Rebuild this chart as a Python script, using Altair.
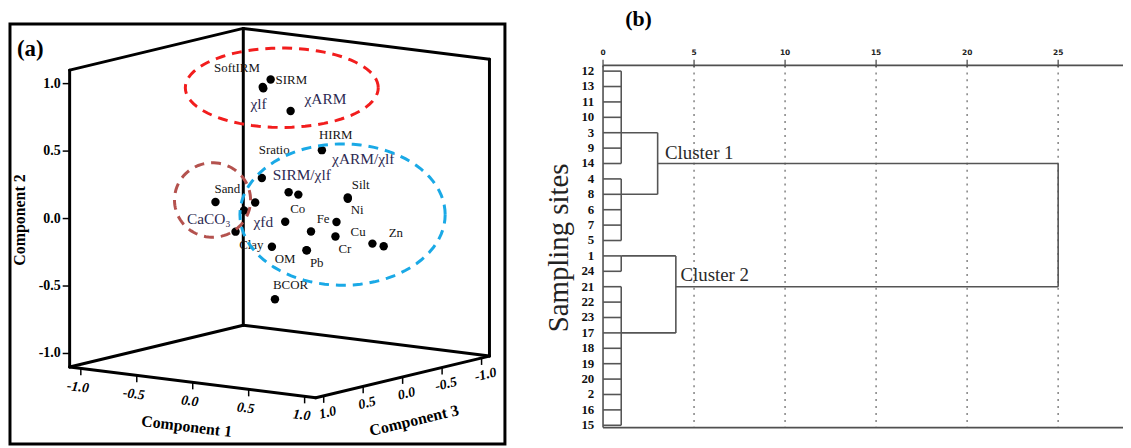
import altair as alt
import pandas as pd

# ---------------- panel (a): component loadings (3-D) ----------------
var_names = ["SoftIRM", "χlf", "SIRM", "χARM", "HIRM", "Sratio", "SIRM/χlf", "χARM/χlf",
             "Silt", "Ni", "Sand", "", "", "χfd", "Fe", "CaCO₃", "Co", "Cr", "Cu", "Zn",
             "Clay", "OM", "Pb", "BCOR"]
comp1 = [-0.08, -0.11, -0.15, 0.24, 0.59, -0.37, -0.06, 0.45, 0.68, 0.61, -0.22, -0.50,
         -0.67, -0.02, 0.65, 0.03, 0.14, 0.57, 0.83, 0.86, -0.28, 0.24, 0.28, 0.10]
comp2 = [0.94, 0.92, 0.96, 0.81, 0.57, 0.18, 0.12, 0.24, 0.20, 0.17, 0.13, -0.03,
         -0.12, -0.08, 0.03, -0.05, -0.15, -0.10, -0.14, -0.17, -0.32, -0.25, -0.24, -0.60]
comp3 = [0.10, 0.05, -0.10, 0.20, 0.30, -0.30, -0.20, 0.40, 0.10, 0.00, 0.50, -0.40,
         -0.50, -0.10, 0.20, 0.60, -0.20, 0.10, 0.00, -0.10, -0.30, 0.00, 0.05, 0.20]
emphasised = ["χlf", "χARM", "SIRM/χlf", "χARM/χlf", "χfd", "CaCO₃"]

# label placement (pixels, relative to the point)
label_dx = [-49, -13, 5, 14, -3, -3, -16, 34, 4, 3, -1, 0, 0, -32, -20, -49, -21, 3, -22, 5,
            -33, -32, 3, -2]
label_dy = [-19, 16, 0, -12, -15, -28, -17, -36, -13, 11.5, -13, 0, 0, 0, -3, -13, -23, 13,
            -12, -13, -2, 9, 13, -14]

axis_ticks = [-1.0, -0.5, 0.0, 0.5, 1.0]
tick_text = ["-1.0", "-0.5", "0.0", "0.5", "1.0"]
BOX = 1.1

# ellipses grouping the variables (projected plane units): centre u, centre v, radius u, radius v
ellipse_cu = [0.020, -0.599, 0.563]
ellipse_cv = [0.929, 0.097, -0.011]
ellipse_ru = [0.862, 0.340, 0.917]
ellipse_rv = [0.294, 0.276, 0.524]
ellipse_color = ["#f21d1d", "#b4524e", "#1aa9e6"]

# ---------------- panel (b): dendrogram ----------------
sites = ["12", "13", "11", "10", "3", "9", "14", "4", "8", "6", "7", "5",
         "1", "24", "21", "22", "23", "17", "18", "19", "20", "2", "16", "15"]
link_h_from = [1, 1, 3, 1, 1, 4]
link_h_to = [3, 3, 25, 4, 4, 25]
link_h_row = [4, 8, 6, 12, 17, 14]
link_v_dist = [1, 1, 1, 1, 3, 4, 25]
link_v_top = [0, 7, 12, 14, 4, 12, 6]
link_v_bottom = [6, 11, 13, 23, 8, 17, 14]
leaf_join = 1
dist_ticks = [0, 5, 10, 15, 20, 25]
cluster_names = ["Cluster 1", "Cluster 2"]
cluster_dist = [3.4, 4.25]
cluster_row = [5.3, 13.27]

# ---------------- projection & scales ----------------
K13, K21, K23 = 0.7054, 0.1038, 0.1405
PXU, PXV = 112.7, 135.9
SERIF = "Liberation Serif"


def U(p):
    return f"datum.{p}1 - {K13}*datum.{p}3"


def V(p):
    return f"datum.{p}2 - {K21}*datum.{p}1 - {K23}*datum.{p}3"


SU = alt.Scale(domain=[-1, 1], range=[160.8, 386.2], nice=False, zero=False)
SV = alt.Scale(domain=[-1, 1], range=[340.9, 69.1], nice=False, zero=False)
SD = alt.Scale(domain=[0, 25], range=[599.3, 1057.7], nice=False, zero=False)
SR = alt.Scale(domain=[0, 23], range=[62, 418.7], nice=False, zero=False)


def xu(f):
    return alt.X(f"{f}:Q", scale=SU, axis=None)


def yv(f):
    return alt.Y(f"{f}:Q", scale=SV, axis=None)


layers = []

# outer frame of panel (a)
one = pd.DataFrame({"k": [0]})
layers.append(alt.Chart(one).mark_rect(fillOpacity=0, stroke="black", strokeWidth=3).encode(
    x=alt.value(2), x2=alt.value(500.5), y=alt.value(14.5), y2=alt.value(437.5)))

# cube edges
L = BOX
edges = [((-L, -L, -L), (-L, L, -L)), ((-L, -L, L), (-L, L, L)), ((L, -L, -L), (L, L, -L)),
         ((-L, L, L), (-L, L, -L)), ((-L, L, -L), (L, L, -L)), ((-L, -L, L), (-L, -L, -L)),
         ((-L, -L, -L), (L, -L, -L)), ((-L, -L, L), (L, -L, L)), ((L, -L, L), (L, -L, -L))]
df_edges = pd.DataFrame({"a1": [e[0][0] for e in edges], "a2": [e[0][1] for e in edges],
                         "a3": [e[0][2] for e in edges], "b1": [e[1][0] for e in edges],
                         "b2": [e[1][1] for e in edges], "b3": [e[1][2] for e in edges]})
layers.append(alt.Chart(df_edges).transform_calculate(
    ua=U("a"), va=V("a"), ub=U("b"), vb=V("b")
).mark_rule(color="black", strokeWidth=3, strokeCap="round").encode(
    x=xu("ua"), x2="ub:Q", y=yv("va"), y2="vb:Q"))

df_ticks = pd.DataFrame({"t": axis_ticks, "lab": tick_text})

# Component 2 ticks (left vertical edge)
c2t = alt.Chart(df_ticks).transform_calculate(
    c1=f"{-L}", c3=f"{L}", c2="datum.t").transform_calculate(
    u=U("c"), v=V("c")).transform_calculate(
    u2=f"datum.u - 7/{PXU}", ul=f"datum.u - 9/{PXU}")
layers.append(c2t.mark_rule(color="black", strokeWidth=1.5).encode(
    x=xu("u"), x2="u2:Q", y=yv("v")))
layers.append(c2t.mark_text(font=SERIF, fontSize=14, fontWeight="bold", align="right",
                            baseline="middle", color="black").encode(
    x=xu("ul"), y=yv("v"), text="lab:N"))

# Component 1 ticks (front-left floor edge)
c1t = alt.Chart(df_ticks).transform_calculate(
    c1="datum.t", c2=f"{-L}", c3=f"{L}").transform_calculate(
    u=U("c"), v=V("c")).transform_calculate(
    v2=f"datum.v - 7/{PXV}", ul=f"datum.u - 3/{PXU}", vl=f"datum.v - 19/{PXV}")
layers.append(c1t.mark_rule(color="black", strokeWidth=1.5).encode(
    x=xu("u"), y=yv("v"), y2="v2:Q"))
layers.append(c1t.mark_text(font=SERIF, fontSize=14, fontWeight="bold", fontStyle="italic",
                            align="center", baseline="middle", angle=7, color="black").encode(
    x=xu("ul"), y=yv("vl"), text="lab:N"))

# Component 3 ticks (front-right floor edge)
c3t = alt.Chart(df_ticks).transform_calculate(
    c1=f"{L}", c2=f"{-L}", c3="datum.t").transform_calculate(
    u=U("c"), v=V("c")).transform_calculate(
    v2=f"datum.v - 7/{PXV}", ul=f"datum.u + 4/{PXU}", vl=f"datum.v - 17/{PXV}")
layers.append(c3t.mark_rule(color="black", strokeWidth=1.5).encode(
    x=xu("u"), y=yv("v"), y2="v2:Q"))
layers.append(c3t.mark_text(font=SERIF, fontSize=14, fontWeight="bold", fontStyle="italic",
                            align="center", baseline="middle", angle=346.5, color="black").encode(
    x=xu("ul"), y=yv("vl"), text="lab:N"))

# points
df_pts = pd.DataFrame({"name": var_names, "p1": comp1, "p2": comp2, "p3": comp3,
                       "ldx": label_dx, "ldy": label_dy,
                       "emph": [n in emphasised for n in var_names]})
pts = alt.Chart(df_pts).transform_calculate(u=U("p"), v=V("p")).transform_calculate(
    lu=f"datum.u + datum.ldx/{PXU}", lv=f"datum.v - datum.ldy/{PXV}")
layers.append(pts.mark_circle(size=72, color="black", opacity=1).encode(x=xu("u"), y=yv("v")))
layers.append(pts.transform_filter("!datum.emph && datum.name != ''").mark_text(
    font=SERIF, fontSize=13, align="left", baseline="middle", color="#151515").encode(
    x=xu("lu"), y=yv("lv"), text="name:N"))
layers.append(pts.transform_filter("datum.emph").mark_text(
    font=SERIF, fontSize=15.5, align="left", baseline="middle", color="#2d2a52").encode(
    x=xu("lu"), y=yv("lv"), text="name:N"))

# ellipses
for cu, cv, ru, rv, col in zip(ellipse_cu, ellipse_cv, ellipse_ru, ellipse_rv, ellipse_color):
    layers.append(alt.Chart(alt.sequence(0, 364, 4, as_="deg")).transform_calculate(
        u=f"{cu} + {ru}*cos(datum.deg*PI/180)", v=f"{cv} + {rv}*sin(datum.deg*PI/180)"
    ).mark_line(color=col, strokeWidth=3, strokeDash=[10, 7]).encode(
        x=xu("u"), y=yv("v"), order="deg:Q"))

# panel (a) texts
txt = alt.Chart(one)
layers.append(txt.mark_text(text="(a)", font=SERIF, fontSize=23, fontWeight="bold",
                            align="left", baseline="middle").encode(x=alt.value(9), y=alt.value(40)))
layers.append(txt.mark_text(text="Component 2", font=SERIF, fontSize=16, fontWeight="bold",
                            angle=270, align="center", baseline="middle").encode(
    x=alt.value(12), y=alt.value(212)))
layers.append(txt.mark_text(text="Component 1", font=SERIF, fontSize=16, fontWeight="bold",
                            angle=7, align="center", baseline="middle").encode(
    x=alt.value(180), y=alt.value(420)))
layers.append(txt.mark_text(text="Component 3", font=SERIF, fontSize=16, fontWeight="bold",
                            angle=346.5, align="center", baseline="middle").encode(
    x=alt.value(409), y=alt.value(414)))

# ---------------- panel (b) layers ----------------
def xd(f):
    return alt.X(f"{f}:Q", scale=SD, axis=None)


def yr(f):
    return alt.Y(f"{f}:Q", scale=SR, axis=None)


df_dt = pd.DataFrame({"d": dist_ticks, "lab": [str(t) for t in dist_ticks]})
TOP, BOT = 56.3, 421.0
# dotted grid
layers.append(alt.Chart(df_dt).transform_filter("datum.d > 0").mark_rule(
    color="#8a8a8a", strokeWidth=1.6, strokeDash=[2, 5]).encode(
    x=xd("d"), y=alt.value(TOP), y2=alt.value(BOT)))
# top/bottom lines and left line
zero = pd.DataFrame({"d": [0]})
for yy in (TOP, BOT):
    layers.append(alt.Chart(zero).mark_rule(color="#505050", strokeWidth=1.8).encode(
        x=xd("d"), x2=alt.value(1130), y=alt.value(yy)))
layers.append(alt.Chart(zero).mark_rule(color="#505050", strokeWidth=1.6).encode(
    x=xd("d"), y=alt.value(TOP), y2=alt.value(BOT)))
# tick marks and labels
layers.append(alt.Chart(df_dt).mark_rule(color="#505050", strokeWidth=1.3).encode(
    x=xd("d"), y=alt.value(50.5), y2=alt.value(58)))
layers.append(alt.Chart(df_dt).mark_text(font="DejaVu Sans", fontSize=7.5, fontWeight="bold",
                                         align="center", baseline="middle", color="#222").encode(
    x=xd("d"), y=alt.value(43.5), text="lab:N"))

# leaves
df_leaf = pd.DataFrame({"site": sites, "r": list(range(len(sites))), "d0": 0, "d1": leaf_join})
layers.append(alt.Chart(df_leaf).mark_rule(color="#555", strokeWidth=1.6).encode(
    x=xd("d0"), x2="d1:Q", y=yr("r")))
layers.append(alt.Chart(df_leaf).mark_text(font=SERIF, fontSize=13, fontWeight="bold",
                                           align="right", baseline="middle", color="#111").encode(
    x=alt.value(590.5), y=yr("r"), text="site:N"))
# links
df_lh = pd.DataFrame({"a": link_h_from, "b": link_h_to, "r": link_h_row})
layers.append(alt.Chart(df_lh).mark_rule(color="#555", strokeWidth=1.6).encode(
    x=xd("a"), x2="b:Q", y=yr("r")))
df_lv = pd.DataFrame({"d": link_v_dist, "r1": link_v_top, "r2": link_v_bottom})
layers.append(alt.Chart(df_lv).mark_rule(color="#555", strokeWidth=1.6).encode(
    x=xd("d"), y=yr("r1"), y2="r2:Q"))
# cluster names
df_cl = pd.DataFrame({"name": cluster_names, "d": cluster_dist, "r": cluster_row})
layers.append(alt.Chart(df_cl).mark_text(font=SERIF, fontSize=19, align="left",
                                         baseline="middle", color="#2a2a2a").encode(
    x=xd("d"), y=yr("r"), text="name:N"))
# titles
layers.append(txt.mark_text(text="Sampling sites", font=SERIF, fontSize=29, angle=270,
                            align="center", baseline="alphabetic", color="#222").encode(
    x=alt.value(564), y=alt.value(240)))
layers.append(txt.mark_text(text="(b)", font=SERIF, fontSize=22, fontWeight="bold",
                            align="center", baseline="middle").encode(
    x=alt.value(635), y=alt.value(10)))

chart = alt.layer(*layers).resolve_scale(x="independent", y="independent").properties(
    width=1123, height=440, autosize=alt.AutoSizeParams(type="none"), padding=0
).configure_view(stroke=None)

chart.save("out.html", embed_options={"renderer": "svg", "actions": False})
